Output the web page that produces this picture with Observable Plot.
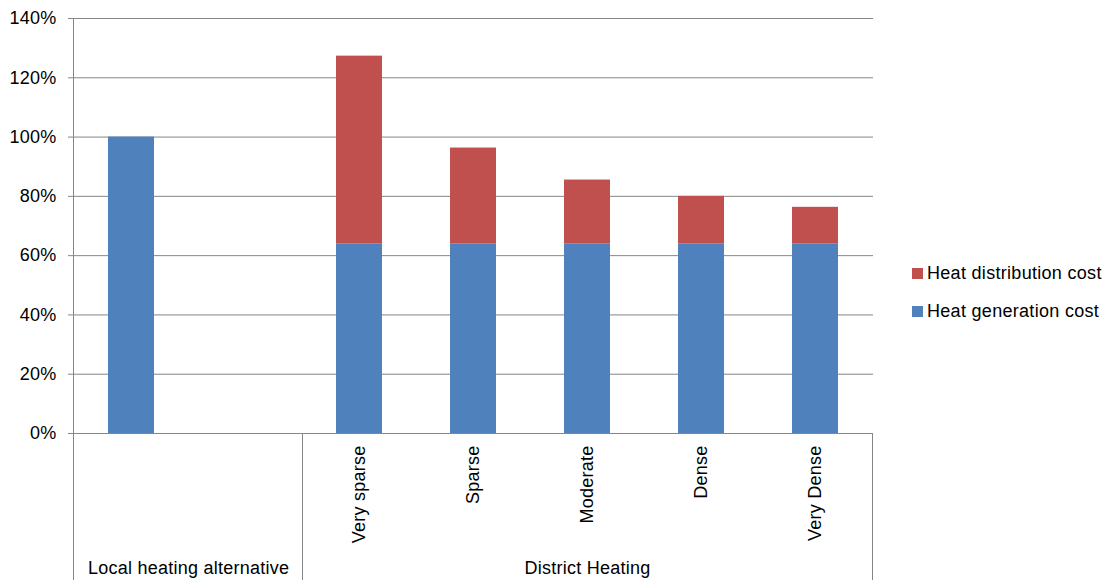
<!DOCTYPE html>
<html><head><meta charset="utf-8">
<script src="https://cdn.jsdelivr.net/npm/d3@7"></script>
<script src="https://cdn.jsdelivr.net/npm/@observablehq/plot@0.6"></script>
<style>
body{margin:0;background:#fff;font-family:"Liberation Sans",Arial,sans-serif;}
#wrap{position:relative;width:1105px;height:583px;overflow:hidden;}
#wrap svg text{letter-spacing:0.25px;}
#legend{position:absolute;left:912px;top:263px;font-size:18px;color:#000;letter-spacing:0.3px;}
#legend .item{display:flex;align-items:center;height:20px;margin-bottom:18px;white-space:nowrap;}
#legend .sw{width:11px;height:11px;margin-right:4px;}
</style></head><body><div id="wrap"></div>
<script>
// slots on the x axis (the second slot is an empty spacer)
const categories = ["Local heating alternative", "(gap)", "Very sparse", "Sparse", "Moderate", "Dense", "Very Dense"];
const dhCategories = ["Very sparse", "Sparse", "Moderate", "Dense", "Very Dense"];
const groupLabels = ["Local heating alternative", "District Heating"];
const seriesNames = ["Heat generation cost", "Heat distribution cost"];
const seriesColors = ["#4F81BD", "#C0504D"];
const generation = [100, null, 64, 64, 64, 64, 64];
const distribution = [0, null, 63.3, 32.3, 21.5, 16, 12.3];
const yTicks = [0, 20, 40, 60, 80, 100, 120, 140];

const table = [];
categories.forEach((c, i) => {
  if (generation[i] != null) table.push({category: c, series: seriesNames[0], value: generation[i]});
  if (distribution[i] != null) table.push({category: c, series: seriesNames[1], value: distribution[i]});
});

const W = 1105, H = 583, ML = 73, MR = 232, MT = 18, MB = 150;
const step = (W - ML - MR) / categories.length;

const chart = Plot.plot({
  width: W, height: H,
  marginLeft: ML, marginRight: MR, marginTop: MT, marginBottom: MB,
  style: {fontFamily: "'Liberation Sans', Arial, sans-serif", fontSize: "18px", color: "#000", background: "#fff"},
  x: {domain: categories, paddingInner: 0.6, paddingOuter: 0.3, axis: null},
  y: {domain: [0, 140], axis: null},
  color: {domain: seriesNames, range: seriesColors},
  marks: [
    Plot.gridY(yTicks, {stroke: "#868686", strokeOpacity: 1, strokeWidth: 1}),
    Plot.barY(table, {x: "category", y: "value", fill: "series", inset: 0}),
    Plot.axisY(yTicks, {tickFormat: d => d + "%", tickSize: 5, tickPadding: 12, stroke: "#868686", fill: "#000", fontSize: 18, label: null}),
    Plot.text(dhCategories, {x: d => d, frameAnchor: "bottom", rotate: -90, textAnchor: "end", lineAnchor: "middle", dy: 12, fontSize: 18, fill: "#000"}),
    Plot.text([groupLabels[0]], {x: () => categories[0], frameAnchor: "bottom", dx: step / 2, dy: 135, lineAnchor: "middle", textAnchor: "middle", fontSize: 18, fill: "#000"}),
    Plot.text([groupLabels[1]], {x: () => "Moderate", frameAnchor: "bottom", dy: 135, lineAnchor: "middle", textAnchor: "middle", fontSize: 18, fill: "#000"})
  ]
});

document.getElementById("wrap").appendChild(chart);

// frame lines of the category table below the axis
const xs = chart.scale("x");
const bw = xs.bandwidth;
const st = xs.step || (xs.apply(categories[3]) - xs.apply(categories[2]));
const divider = xs.apply("Very sparse") - (st - bw) / 2;
const rightEdge = xs.apply("Very Dense") + bw + (st - bw) / 2;
const y0 = chart.scale("y").apply(0);
const yTop = chart.scale("y").apply(140);
const svg = d3.select(chart);
const lines = [[ML, yTop, ML, 580], [divider, y0, divider, 580], [rightEdge, y0, rightEdge, 580]];
svg.append("g").selectAll("line").data(lines).join("line")
  .attr("x1", d => d[0]).attr("y1", d => d[1]).attr("x2", d => d[2]).attr("y2", d => d[3])
  .attr("stroke", "#868686").attr("stroke-width", 1).attr("shape-rendering", "crispEdges");

// legend
const legend = d3.select("#wrap").append("div").attr("id", "legend");
const order = [1, 0];
order.forEach(i => {
  const it = legend.append("div").attr("class", "item");
  it.append("div").attr("class", "sw").style("background", seriesColors[i]);
  it.append("span").text(seriesNames[i]);
});
</script>
</body></html>
